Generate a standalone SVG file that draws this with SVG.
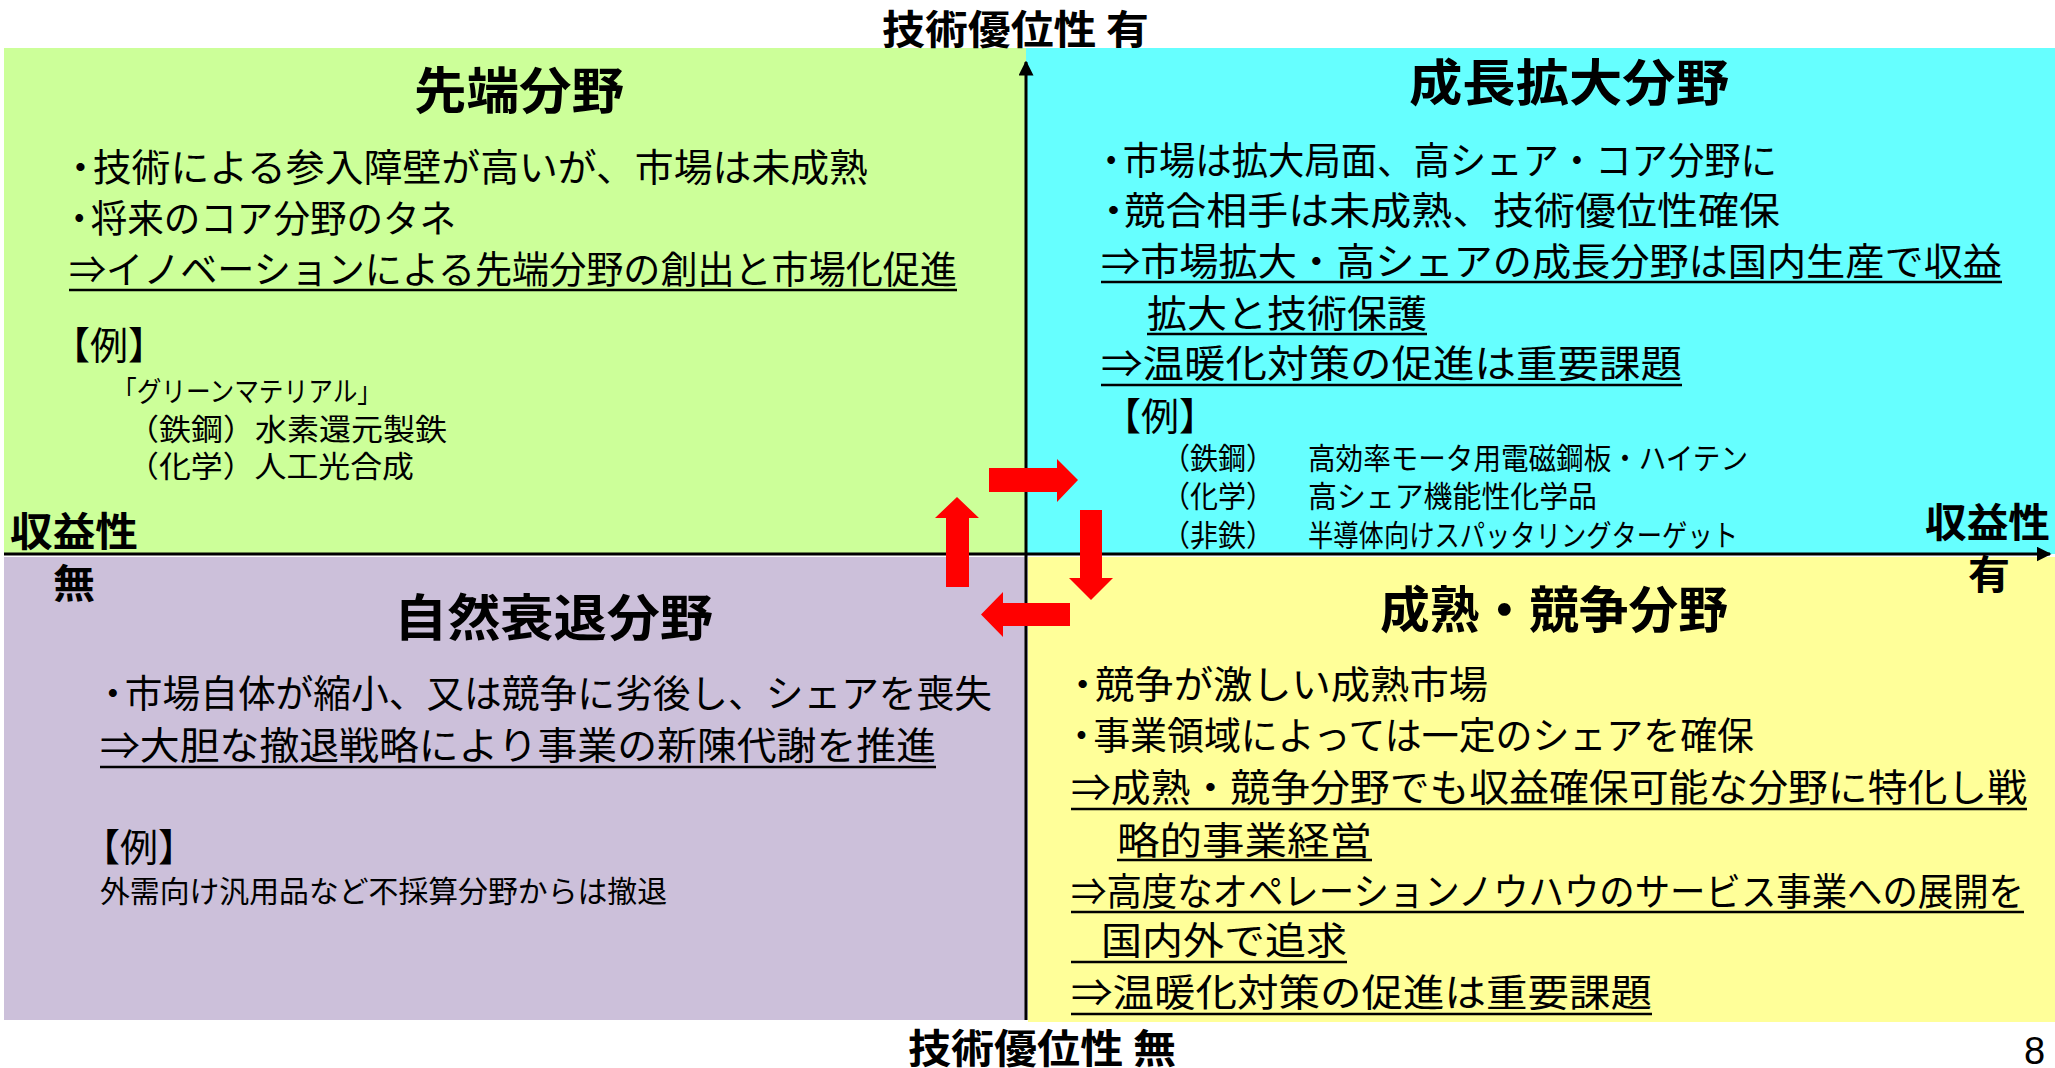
<svg xmlns="http://www.w3.org/2000/svg" width="2055" height="1068" viewBox="0 0 2055 1068">
<defs>
<style>
text{font-family:"Noto Sans CJK JP","Noto Sans CJK SC",sans-serif;fill:#000;}
.t{font-size:50px;font-weight:bold;}
.b{font-size:38px;}
.s{font-size:30px;}
.ax{font-size:40px;font-weight:bold;}
.ul{stroke:#000;stroke-width:2.5;}
.arr{fill:#FF0000;}
.axis{stroke:#000;stroke-width:3;fill:none;}
</style>
<marker id="ah" viewBox="0 0 10 10" refX="9" refY="5" markerWidth="5" markerHeight="5" orient="auto" markerUnits="strokeWidth">
<path d="M0,0 L10,5 L0,10 z" fill="#000"/>
</marker>
</defs>
<rect width="2055" height="1068" fill="#fff"/>

<g id="q-sentan">
<rect x="4" y="48" width="1022" height="506" fill="#CCFF99"/>
<text class="t" x="414" y="109" textLength="210" lengthAdjust="spacingAndGlyphs">先端分野</text>
<text class="b" x="61" dx="0 -7" y="181" textLength="807" lengthAdjust="spacingAndGlyphs">・技術による参入障壁が高いが、市場は未成熟</text>
<text class="b" x="61" dx="0 -7" y="232" textLength="395" lengthAdjust="spacingAndGlyphs">・将来のコア分野のタネ</text>
<text class="b" x="69" y="283" textLength="888" lengthAdjust="spacingAndGlyphs">⇒イノベーションによる先端分野の創出と市場化促進</text>
<line class="ul" x1="69" y1="290" x2="957" y2="290"/>
<text class="b" x="52" y="359" textLength="114" lengthAdjust="spacingAndGlyphs">【例】</text>
<text style="font-size:28px" x="112" y="402" textLength="270" lengthAdjust="spacingAndGlyphs">「グリーンマテリアル」</text>
<text class="s" x="127" y="440" textLength="320" lengthAdjust="spacingAndGlyphs">（鉄鋼）水素還元製鉄</text>
<text class="s" x="127" y="477" textLength="287" lengthAdjust="spacingAndGlyphs">（化学）人工光合成</text>
</g>

<g id="q-seichou">
<rect x="1026" y="48" width="1029" height="506" fill="#66FFFF"/>
<text class="t" x="1409" y="101" textLength="320" lengthAdjust="spacingAndGlyphs">成長拡大分野</text>
<text class="b" x="1093" dx="0 -7" y="174" textLength="684" lengthAdjust="spacingAndGlyphs">・市場は拡大局面、高シェア・コア分野に</text>
<text class="b" x="1093" dx="0 -9" y="224" textLength="687" lengthAdjust="spacingAndGlyphs">・競合相手は未成熟、技術優位性確保</text>
<text class="b" x="1101" y="275" textLength="901" lengthAdjust="spacingAndGlyphs">⇒市場拡大・高シェアの成長分野は国内生産で収益</text>
<line class="ul" x1="1101" y1="282" x2="2002" y2="282"/>
<text class="b" x="1147" y="327" textLength="280" lengthAdjust="spacingAndGlyphs">拡大と技術保護</text>
<line class="ul" x1="1147" y1="334" x2="1427" y2="334"/>
<text class="b" x="1101" y="377" textLength="581" lengthAdjust="spacingAndGlyphs">⇒温暖化対策の促進は重要課題</text>
<line class="ul" x1="1101" y1="385" x2="1682" y2="385"/>
<text class="b" x="1103" y="430" textLength="114" lengthAdjust="spacingAndGlyphs">【例】</text>
<text class="s" x="1162" y="469" textLength="112" lengthAdjust="spacingAndGlyphs">（鉄鋼）</text>
<text class="s" x="1308" y="469" textLength="440" lengthAdjust="spacingAndGlyphs">高効率モータ用電磁鋼板・ハイテン</text>
<text class="s" x="1162" y="507" textLength="112" lengthAdjust="spacingAndGlyphs">（化学）</text>
<text class="s" x="1308" y="507" textLength="289" lengthAdjust="spacingAndGlyphs">高シェア機能性化学品</text>
<text class="s" x="1162" y="546" textLength="112" lengthAdjust="spacingAndGlyphs">（非鉄）</text>
<text class="s" x="1308" y="546" textLength="430" lengthAdjust="spacingAndGlyphs">半導体向けスパッタリングターゲット</text>
</g>

<g id="q-suitai">
<rect x="4" y="557" width="1022" height="463" fill="#CCC0DA"/>
<text class="t" x="394" y="636" textLength="319" lengthAdjust="spacingAndGlyphs">自然衰退分野</text>
<text class="b" x="94" dx="0 -7" y="707" textLength="898" lengthAdjust="spacingAndGlyphs">・市場自体が縮小、又は競争に劣後し、シェアを喪失</text>
<text class="b" x="100" y="759" textLength="836" lengthAdjust="spacingAndGlyphs">⇒大胆な撤退戦略により事業の新陳代謝を推進</text>
<line class="ul" x1="100" y1="767" x2="936" y2="767"/>
<text class="b" x="82" y="861" textLength="114" lengthAdjust="spacingAndGlyphs">【例】</text>
<text class="s" x="100" y="902" textLength="567" lengthAdjust="spacingAndGlyphs">外需向け汎用品など不採算分野からは撤退</text>
</g>

<g id="q-seijuku">
<rect x="1028" y="557" width="1027" height="465" fill="#FFFF99"/>
<text class="t" x="1380" y="628" textLength="348" lengthAdjust="spacingAndGlyphs">成熟・競争分野</text>
<text class="b" x="1063" dx="0 -7" y="698" textLength="425" lengthAdjust="spacingAndGlyphs">・競争が激しい成熟市場</text>
<text class="b" x="1063" dx="0 -7" y="749" textLength="691" lengthAdjust="spacingAndGlyphs">・事業領域によっては一定のシェアを確保</text>
<text class="b" x="1071" y="801" textLength="956" lengthAdjust="spacingAndGlyphs">⇒成熟・競争分野でも収益確保可能な分野に特化し戦</text>
<line class="ul" x1="1071" y1="809" x2="2027" y2="809"/>
<text class="b" x="1117" y="854" textLength="255" lengthAdjust="spacingAndGlyphs">略的事業経営</text>
<line class="ul" x1="1117" y1="860" x2="1372" y2="860"/>
<text class="b" x="1071" y="905" textLength="953" lengthAdjust="spacingAndGlyphs">⇒高度なオペレーションノウハウのサービス事業への展開を</text>
<line class="ul" x1="1071" y1="912" x2="2024" y2="912"/>
<text class="b" x="1101" y="954" textLength="246" lengthAdjust="spacingAndGlyphs">国内外で追求</text>
<line class="ul" x1="1071" y1="962" x2="1347" y2="962"/>
<text class="b" x="1071" y="1006" textLength="581" lengthAdjust="spacingAndGlyphs">⇒温暖化対策の促進は重要課題</text>
<line class="ul" x1="1071" y1="1014" x2="1652" y2="1014"/>
</g>

<g id="axes">
<line x1="4" y1="556" x2="1026" y2="556" stroke="#fff" stroke-width="2"/>
<line class="axis" x1="1026" y1="1020" x2="1026" y2="62" marker-end="url(#ah)"/>
<line class="axis" x1="4" y1="554" x2="2050" y2="554" marker-end="url(#ah)"/>
<text class="ax" x="882" y="44" textLength="267" lengthAdjust="spacingAndGlyphs">技術優位性 有</text>
<text class="ax" x="908" y="1063" textLength="268" lengthAdjust="spacingAndGlyphs">技術優位性 無</text>
<text class="ax" x="10" y="546" textLength="128" lengthAdjust="spacingAndGlyphs">収益性</text>
<text class="ax" x="53" y="598" textLength="42" lengthAdjust="spacingAndGlyphs">無</text>
<text class="ax" x="1925" y="537" textLength="125" lengthAdjust="spacingAndGlyphs">収益性</text>
<text class="ax" x="1968" y="589" textLength="42" lengthAdjust="spacingAndGlyphs">有</text>
</g>

<g id="connectors">
<polygon class="arr" points="989,468 1057,468 1057,459 1078,480 1057,502 1057,492 989,492"/>
<polygon class="arr" points="1080,510 1102,510 1102,578 1113,578 1091,600 1069,578 1080,578"/>
<polygon class="arr" points="1070,603 1003,603 1003,592 981,614.5 1003,637 1003,626 1070,626"/>
<polygon class="arr" points="946,587 946,518 935,518 957,497 979,518 969,518 969,587"/>
</g>

<text x="2024" y="1064" style="font-family:'Liberation Sans',sans-serif;font-size:38px">8</text>
</svg>
